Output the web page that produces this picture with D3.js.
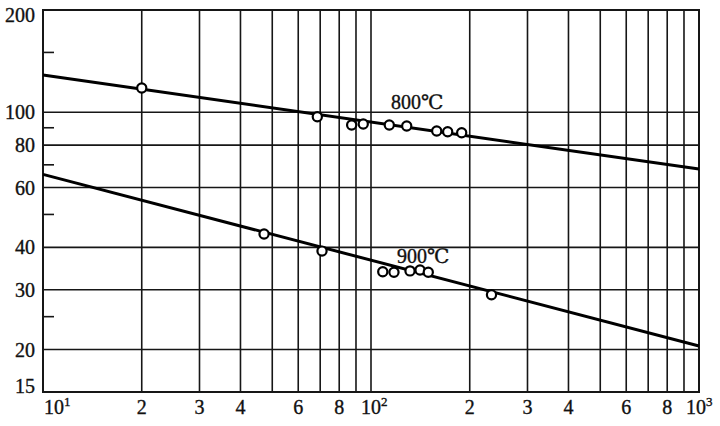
<!DOCTYPE html>
<html><head><meta charset="utf-8">
<script src="https://cdn.jsdelivr.net/npm/d3@7"></script>
<style>
body{margin:0;background:#fff}
text{font-family:"Liberation Serif","DejaVu Serif",serif;fill:#111;stroke:#111;stroke-width:0.35}
</style>
</head><body><svg id="c" width="720" height="426"></svg>
<script>
// ---- data ----
const xTickValues=[10,20,30,40,60,80,100,200,300,400,600,800,1000];
const xTickLabels=["10^1","2","3","4","6","8","10^2","2","3","4","6","8","10^3"];
const xGridValues=[20,30,40,50,60,70,80,90,100,200,300,400,500,600,700,800,900];
const yGridValues=[20,30,40,60,80,100];
const yMinorTicks=[25,50,70,90,150];
const yTickValues=[200,100,80,60,40,30,20,15];
const yTickLabels=["200","100","80","60","40","30","20","15"];
const series800X=[20,68.6,87.3,94.7,113.7,128.5,158.6,171.3,189.0];
const series800Y=[117.8,97.0,91.7,92.3,91.7,91.1,88.0,87.6,87.0];
const series900X=[47.2,70.9,108.6,117.5,131.5,141.1,149.5,233];
const series900Y=[43.8,39.0,33.9,33.8,34.1,34.3,33.8,29.0];
const fit800X=[10,1000], fit800Y=[128.7,68];
const fit900X=[10,1000], fit900Y=[65.6,20.5];
const seriesLabels=["800℃","900℃"];

// ---- chart ----
const svg=d3.select("#c");
const L=43,R=699,T=10,B=392;
const x=d3.scaleLog().domain([10,1000]).range([L,R]);
const y=d3.scaleLog().domain([15,200]).range([B,T]);
const ink="#161616";

svg.append("rect").attr("width",720).attr("height",426).attr("fill","#fff");

// vertical grid
svg.append("g").selectAll("line").data(xGridValues).join("line")
  .attr("x1",d=>x(d)).attr("x2",d=>x(d)).attr("y1",T).attr("y2",B)
  .attr("stroke",ink).attr("stroke-width",1.6);
// horizontal grid
svg.append("g").selectAll("line").data(yGridValues).join("line")
  .attr("x1",L).attr("x2",R).attr("y1",d=>y(d)).attr("y2",d=>y(d))
  .attr("stroke",ink).attr("stroke-width",1.6);
// minor ticks
svg.append("g").selectAll("line").data(yMinorTicks).join("line")
  .attr("x1",L).attr("x2",L+11).attr("y1",d=>y(d)).attr("y2",d=>y(d))
  .attr("stroke",ink).attr("stroke-width",1.6);
// frame
svg.append("rect").attr("x",L).attr("y",T).attr("width",R-L).attr("height",B-T)
  .attr("fill","none").attr("stroke",ink).attr("stroke-width",2);

// y labels
svg.append("g").selectAll("text").data(yTickValues).join("text")
  .attr("x",35).attr("text-anchor","end").attr("font-size",20)
  .attr("y",d=>Math.max(T+12,Math.min(B+1,y(d)+7)))
  .text((d,i)=>yTickLabels[i]);

// x labels
const xl=svg.append("g");
xTickValues.forEach((v,i)=>{
  const lab=xTickLabels[i];
  if(lab.includes("^")){
    const [b,e]=lab.split("^");
    const px = i===0 ? x(v)+1 : (i===xTickValues.length-1 ? x(v)-13 : x(v)-10);
    const t=xl.append("text").attr("x",px).attr("y",414).attr("font-size",20).attr("text-anchor","start");
    t.append("tspan").text(b);
    t.append("tspan").attr("font-size",13).attr("dy",-8).text(e);
  } else {
    xl.append("text").attr("x",x(v)).attr("y",414).attr("font-size",20)
      .attr("text-anchor","middle").text(lab);
  }
});

// fit lines
const line=d3.line().x(d=>x(d[0])).y(d=>y(d[1]));
[[fit800X,fit800Y],[fit900X,fit900Y]].forEach(([fx,fy])=>{
  svg.append("path").attr("d",line(fx.map((v,i)=>[v,fy[i]])))
    .attr("fill","none").attr("stroke","#000").attr("stroke-width",3);
});

// points
[[series800X,series800Y],[series900X,series900Y]].forEach(([sx,sy])=>{
  svg.append("g").selectAll("circle").data(sx.map((v,i)=>[v,sy[i]])).join("circle")
    .attr("cx",d=>x(d[0])).attr("cy",d=>y(d[1])).attr("r",4.6)
    .attr("fill","#fff").attr("stroke","#000").attr("stroke-width",2.2);
});

// series labels
svg.append("text").attr("x",x(115)).attr("y",y(100)-3).attr("font-size",20).text(seriesLabels[0]);
svg.append("text").attr("x",x(120)).attr("y",y(35.5)-2).attr("font-size",20).text(seriesLabels[1]);
</script>
</body></html>
